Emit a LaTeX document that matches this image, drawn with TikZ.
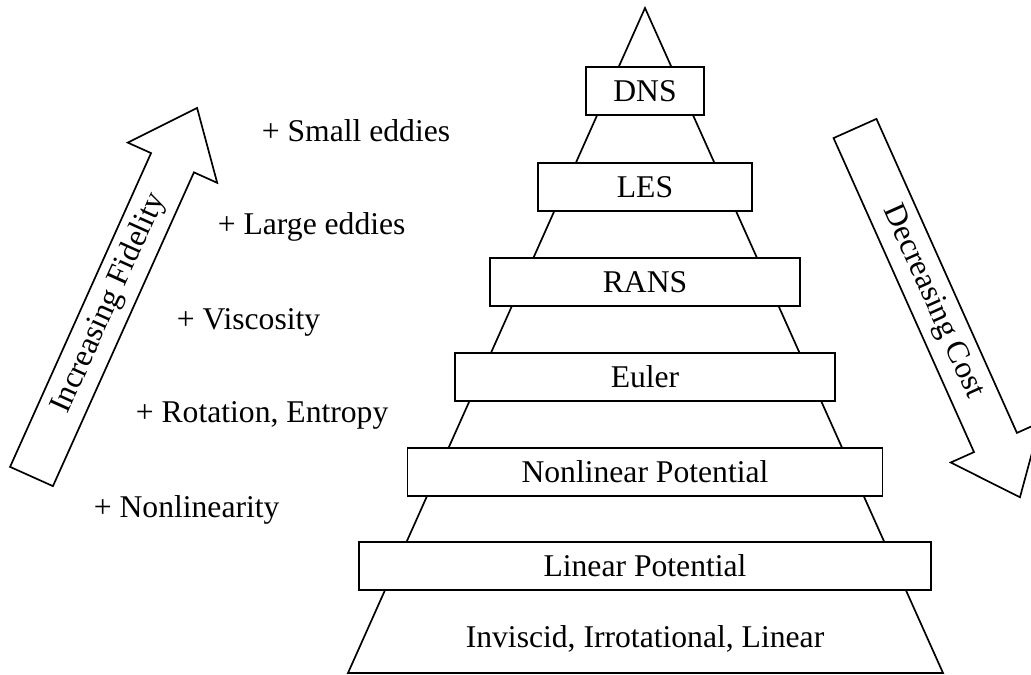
\documentclass[tikz,border=0pt]{standalone}
\usepackage{fontspec}
\setmainfont{Liberation Serif}
\begin{document}
\begin{tikzpicture}[x=0.025cm,y=0.025cm,line width=1.2pt,
  font=\fontsize{22.5}{27}\selectfont,
  level/.style={draw,fill=white,minimum height=1.2cm,inner sep=0pt},
  gain/.style={anchor=base west,inner sep=0pt}]
  \clip (0,0) rectangle (1031,675);
  % the pyramid
  \coordinate (apex) at (645,667);
  \coordinate (baseL) at (348,2);
  \coordinate (baseR) at (943,2);
  \draw[line join=miter] (apex)--(baseL)--(baseR)--cycle;
  \node[anchor=base] (flow) at (645,27) {Inviscid, Irrotational, Linear};
  % model levels, top to bottom
  \foreach \n/\w/\y/\t in {dns/118/584/DNS, les/214/488/LES, rans/310/393/RANS,
      euler/380/298/Euler, nlpot/475/203/Nonlinear Potential, lpot/572/109/Linear Potential} {
    \node[level,minimum width=\w*0.025cm] (\n) at (645,\y) {\t};
  }
  % what each step adds
  \node[gain] (small) at (261,533) {+ Small eddies};
  \node[gain] (large) at (217,440) {+ Large eddies};
  \node[gain] (visc) at (176,345) {+ Viscosity};
  \node[gain] (rot) at (135,252) {+ Rotation, Entropy};
  \node[gain] (nonlin) at (93,157) {+ Nonlinearity};
  % block arrows
  \foreach \n/\x/\y/\a/\t in {fidelity/31.5/198.5/65.8/Increasing Fidelity,
      cost/855/546.5/-65.9/Decreasing Cost} {
    \begin{scope}[shift={(\x,\y)},rotate=\a]
      \draw[line join=miter] (0,-23.5)--(344,-23.5)--(344,-49)--(404,0)--(344,49)--(344,23.5)--(0,23.5)--cycle;
      \node[rotate=\a] (\n) at (190,0) {\t};
    \end{scope}
  }
\end{tikzpicture}
\end{document}
